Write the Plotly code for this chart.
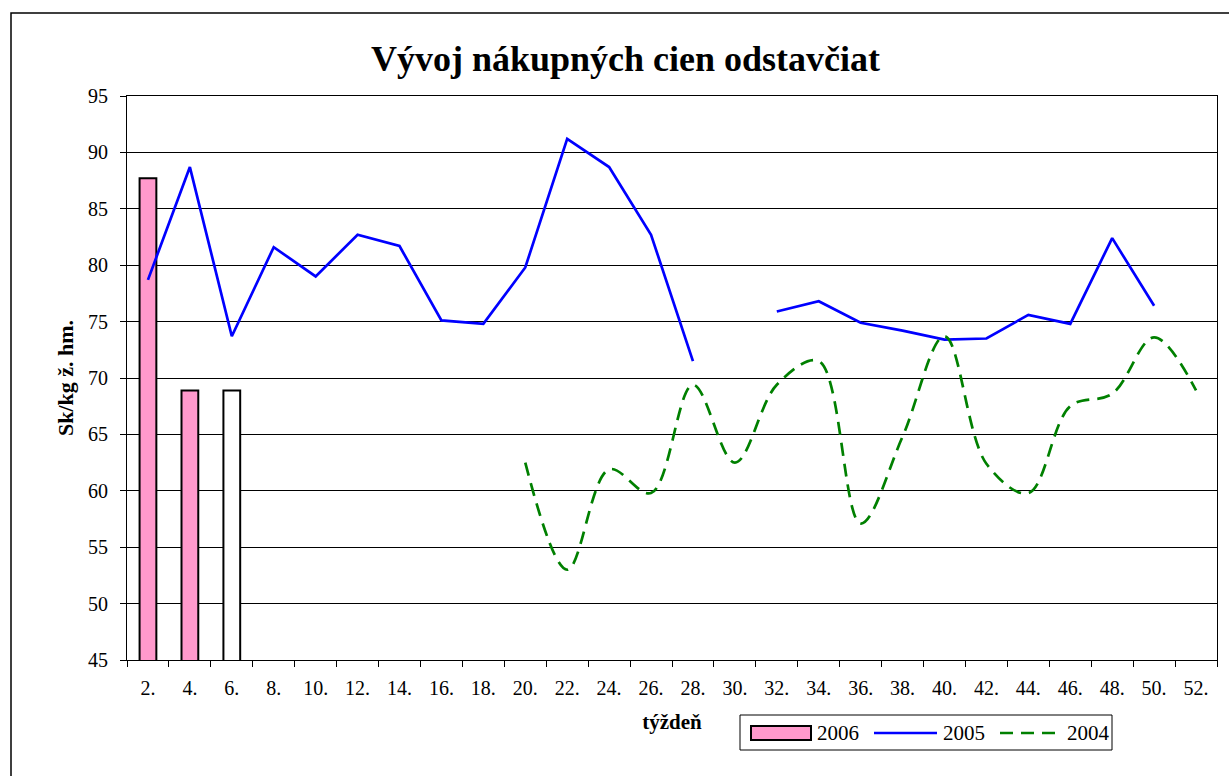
import plotly.graph_objects as go

weeks = [f"{w}." for w in range(2, 53, 2)]

s2006 = [87.7, 68.9, 68.9] + [None] * 23
s2006_colors = ["#FF99CC", "#FF99CC", "#FFFFFF"] + ["#FF99CC"] * 23

s2005 = [78.7, 88.7, 73.7, 81.6, 79.0, 82.7, 81.7, 75.1, 74.8, 79.8, 91.2, 88.7, 82.7,
         71.5, None, 75.9, 76.8, 74.9, 74.2, 73.4, 73.5, 75.6, 74.8, 82.4, 76.4, None]

s2004 = [None] * 9 + [62.5, 53.0, 61.9, 59.8, 69.4, 62.5, 69.4, 71.5, 57.1, 64.8, 73.7,
                      62.4, 59.8, 67.5, 68.6, 73.6, 68.9]

legend_names = ["2006", "2005", "2004"]

FONT = "Liberation Serif, Times New Roman, serif"

# plot area in pixels
L, R, T, B = 127, 1217, 96, 660
W, H = R - L, B - T


def px(x):
    return (x - L) / W


def py(y):
    return (B - y) / H


fig = go.Figure()
fig.add_trace(go.Bar(
    x=weeks, y=s2006, name=legend_names[0],
    marker=dict(color=s2006_colors, line=dict(color="black", width=2)),
    width=0.4,
))
fig.add_trace(go.Scatter(
    x=weeks, y=s2005, name=legend_names[1], mode="lines",
    line=dict(color="#0000FF", width=2.7), connectgaps=False,
))
fig.add_trace(go.Scatter(
    x=weeks, y=s2004, name=legend_names[2], mode="lines",
    line=dict(color="#008000", width=2.7, dash="13px,8px", shape="spline", smoothing=1.0),
    connectgaps=False,
))

shapes = [
    # outer chart border
    dict(type="rect", xref="paper", yref="paper",
         x0=px(11), x1=px(1300), y0=py(850), y1=py(13),
         line=dict(color="black", width=1.5), layer="below"),
    # legend box
    dict(type="rect", xref="paper", yref="paper",
         x0=px(740), x1=px(1112), y0=py(750), y1=py(715),
         line=dict(color="black", width=1), fillcolor="white", layer="above"),
    # legend symbols
    dict(type="rect", xref="paper", yref="paper",
         x0=px(751), x1=px(811), y0=py(740), y1=py(726),
         line=dict(color="black", width=2), fillcolor="#FF99CC", layer="above"),
    dict(type="line", xref="paper", yref="paper",
         x0=px(874), x1=px(937), y0=py(733), y1=py(733),
         line=dict(color="#0000FF", width=2.7), layer="above"),
    dict(type="line", xref="paper", yref="paper",
         x0=px(1000), x1=px(1062), y0=py(733), y1=py(733),
         line=dict(color="#008000", width=2.7, dash="13px,8px"), layer="above"),
]

annotations = []
for name, xl in zip(legend_names, [815, 941, 1065]):
    annotations.append(dict(text=name, xref="paper", yref="paper", x=px(xl), y=py(733),
                            xanchor="left", yanchor="middle", showarrow=False,
                            font=dict(size=21, family=FONT, color="black")))

fig.update_layout(
    width=1229, height=776,
    margin=dict(l=L, r=1229 - R, t=T, b=776 - B, autoexpand=False),
    paper_bgcolor="white", plot_bgcolor="white",
    font=dict(family=FONT, size=20, color="black"),
    title=dict(text="<b>Vývoj nákupných cien odstavčiat</b>", x=0.509, xanchor="center",
               y=0.925, yanchor="middle", font=dict(size=36, family=FONT)),
    showlegend=False,
    bargap=0.6,
    shapes=shapes,
    annotations=annotations,
)

fig.update_xaxes(
    type="category", tickson="boundaries", ticks="outside", ticklen=6,
    tickcolor="black", showline=True, linecolor="black", linewidth=1, mirror=True,
    showgrid=False, tickfont=dict(size=20, family=FONT), range=[-0.5, 25.5],
    automargin=False, ticklabelstandoff=10,
    title=dict(text="<b>týždeň</b>", font=dict(size=21, family=FONT), standoff=16),
)
fig.update_yaxes(
    range=[45, 95], dtick=5, ticks="outside", ticklen=6, tickcolor="black",
    showline=True, linecolor="black", linewidth=1, mirror=True,
    showgrid=True, gridcolor="black", gridwidth=1, zeroline=False,
    tickfont=dict(size=20, family=FONT), automargin=False, ticklabelstandoff=8,
    title=dict(text="<b>Sk/kg ž. hm.</b>", font=dict(size=22, family=FONT), standoff=8),
)

fig.write_html("out.html", config={"displayModeBar": False},
               post_script="document.body.style.margin='0';")
